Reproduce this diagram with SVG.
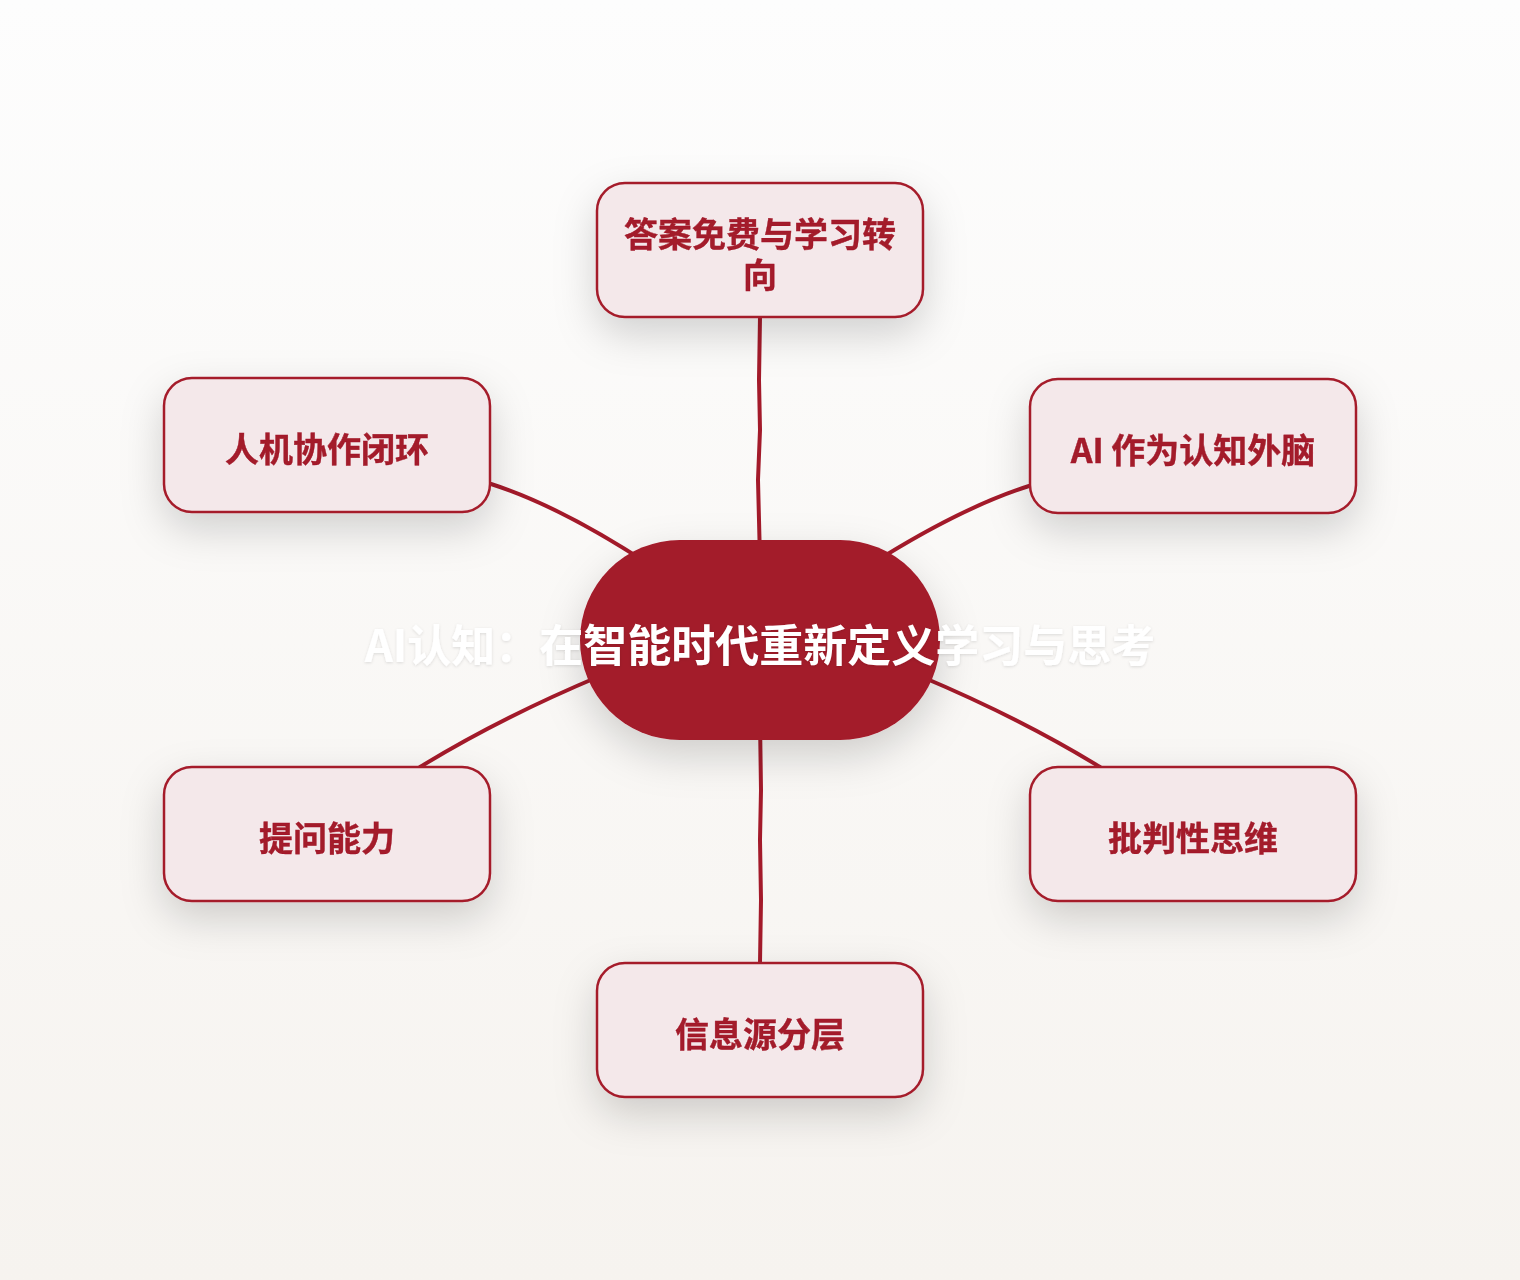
<svg xmlns="http://www.w3.org/2000/svg" width="1520" height="1280" viewBox="0 0 1520 1280">
  <defs>
    <linearGradient id="bg" x1="0" y1="0" x2="0" y2="1">
      <stop offset="0" stop-color="#fdfdfd"/>
      <stop offset="1" stop-color="#f6f3ef"/>
    </linearGradient>
    <filter id="shadow" x="-50%" y="-50%" width="200%" height="220%">
      <feDropShadow dx="0" dy="16" stdDeviation="20" flood-color="#000" flood-opacity="0.17"/>
    </filter>
    <filter id="tshadow" x="-10%" y="-50%" width="120%" height="200%">
      <feDropShadow dx="0" dy="1" stdDeviation="1.5" flood-color="#000" flood-opacity="0.12"/>
    </filter>
  </defs>
  <style>
    .node rect { fill: #f4e8ea; stroke: #a51c2c; stroke-width: 2.5; }
    .label { font-family: "Noto Sans CJK SC", "Noto Sans", "Liberation Sans", sans-serif; font-weight: 700; font-size: 34px; fill: #a31a2b; stroke: #a31a2b; stroke-width: 0.4; text-anchor: middle; dominant-baseline: central; }
    .edge { fill: none; stroke: #a31a2a; stroke-width: 4; stroke-linecap: round; }
    .title { font-family: "Noto Sans CJK SC", "Noto Sans", "Liberation Sans", sans-serif; font-weight: 700; font-size: 44px; fill: #ffffff; text-anchor: middle; dominant-baseline: central; }
  </style>
  <rect x="0" y="0" width="1520" height="1280" fill="url(#bg)"/>

  <g id="connectors">
    <path class="edge" d="M760,317 L759,380 L760,430 L758,480 L760,560"/>
    <path class="edge" d="M491,484 Q560,506 650,565"/>
    <path class="edge" d="M1029,486 Q960,508 870,565"/>
    <path class="edge" d="M420,767 Q500,718 600,676"/>
    <path class="edge" d="M1100,767 Q1020,718 920,676"/>
    <path class="edge" d="M760,963 L761,900 L760,840 L761,790 L760,720"/>
  </g>

  <g id="node-top" class="node" filter="url(#shadow)">
    <rect x="597" y="183" width="326" height="134" rx="28"/>
    <text class="label" x="760" y="232">答案免费与学习转</text>
    <text class="label" x="760" y="273">向</text>
  </g>
  <g id="node-topleft" class="node" filter="url(#shadow)">
    <rect x="164" y="378" width="326" height="134" rx="28"/>
    <text class="label" x="327" y="447">人机协作闭环</text>
  </g>
  <g id="node-topright" class="node" filter="url(#shadow)">
    <rect x="1030" y="379" width="326" height="134" rx="28"/>
    <text class="label" x="1193" y="448">AI 作为认知外脑</text>
  </g>
  <g id="node-bottomleft" class="node" filter="url(#shadow)">
    <rect x="164" y="767" width="326" height="134" rx="28"/>
    <text class="label" x="327" y="836">提问能力</text>
  </g>
  <g id="node-bottomright" class="node" filter="url(#shadow)">
    <rect x="1030" y="767" width="326" height="134" rx="28"/>
    <text class="label" x="1193" y="836">批判性思维</text>
  </g>
  <g id="node-bottom" class="node" filter="url(#shadow)">
    <rect x="597" y="963" width="326" height="134" rx="28"/>
    <text class="label" x="760" y="1032">信息源分层</text>
  </g>

  <g id="node-center">
    <rect x="580" y="540" width="360" height="200" rx="100" fill="#a31a2a" filter="url(#shadow)"/>
    <text class="title" x="760" y="643" filter="url(#tshadow)">AI认知：在智能时代重新定义学习与思考</text>
  </g>
</svg>
